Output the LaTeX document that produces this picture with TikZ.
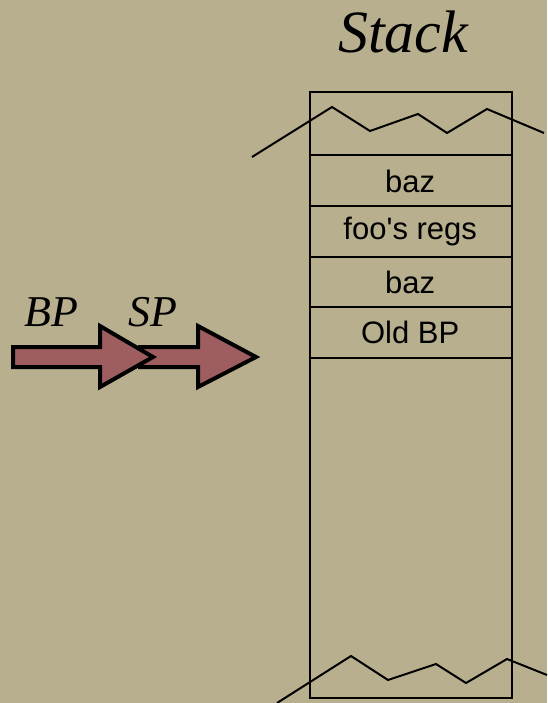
\documentclass[tikz,border=0pt]{standalone}
\usepackage{fontspec}
\setmainfont{Liberation Serif}
\setsansfont{Liberation Sans}
\definecolor{bgtan}{RGB}{184,175,142}
\definecolor{arrowred}{RGB}{158,94,96}
\begin{document}
\begin{tikzpicture}[x=1pt,y=-1pt,
  cell/.style={minimum width=202pt, minimum height=50.5pt, inner sep=0pt, anchor=north west,
    font=\sffamily\fontsize{31}{34}\selectfont},
  frame/.style={draw=black, line width=2pt},
  zig/.style={draw=black, line width=2pt},
  bigarrow/.style={draw=black, fill=arrowred, line width=4pt, line join=miter},
  lbl/.style={font=\itshape\fontsize{44}{48}\selectfont, inner sep=0pt}]
\fill[bgtan] (0,0) rectangle (547,703);
\useasboundingbox (0,0) rectangle (547,703);
\node[font=\itshape\fontsize{60}{64}\selectfont, inner sep=0pt, anchor=base] (title) at (403,53) {Stack};
% outer stack box
\node[frame, minimum width=202pt, minimum height=606pt, inner sep=0pt, anchor=north west] (stack) at (309,91) {};
\node[cell] (c1) at (309,155.5) {baz};
\node[cell] (c2) at (309,206) {foo\textquotesingle s regs};
\node[cell] (c3) at (309,256.5) {baz};
\node[cell] (c4) at (309,307) {Old BP};
\draw[frame] (c1.north west) -- (c1.north east);
\draw[frame] (c2.north west) -- (c2.north east);
\draw[frame] (c3.north west) -- (c3.north east);
\draw[frame] (c4.north west) -- (c4.north east);
\draw[frame] (c4.south west) -- (c4.south east);
% zigzags
\draw[zig] (252,157) -- (332,107) -- (370,131) -- (418,114) -- (447,133) -- (487,109) -- (544,133);
\draw[zig] (277,703) -- (351,656) -- (388,680) -- (436,664) -- (466,683) -- (507,659) -- (547,675);
% arrows
\draw[bigarrow] (140,347) -- (198,347) -- (198,326) -- (256,357) -- (198,387) -- (198,367) -- (140,367) -- cycle;
\draw[bigarrow] (13,347) -- (100,347) -- (100,326) -- (153,357) -- (100,387) -- (100,367) -- (13,367) -- cycle;
\node[lbl, anchor=base] (bp) at (51,326) {BP};
\node[lbl, anchor=base] (sp) at (153,326) {SP};
\end{tikzpicture}
\end{document}
